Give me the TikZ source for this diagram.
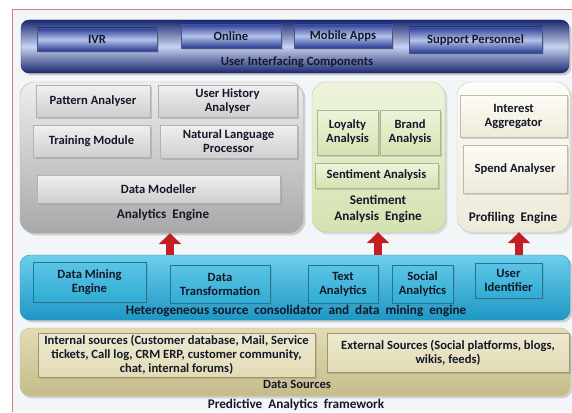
\documentclass[tikz,border=0pt]{standalone}
\usepackage{fontspec}
\setmainfont{Carlito}
\usepackage{tikz}
\usetikzlibrary{arrows.meta,shadows}
\usepackage{xcolor}
\definecolor{pfframe}{RGB}{222,120,132}
\definecolor{pfback}{RGB}{243,246,249}
\definecolor{pfnavy}{RGB}{26,40,110}
\definecolor{pflight}{RGB}{200,210,240}
\definecolor{pfbnavy}{RGB}{40,60,148}
\definecolor{pfblight}{RGB}{182,194,234}
\definecolor{pfgraylt}{RGB}{238,238,238}
\definecolor{pfgraydk}{RGB}{168,168,168}
\definecolor{pfgreenlt}{RGB}{238,244,220}
\definecolor{pfgreendk}{RGB}{212,226,176}
\definecolor{pfcreamlt}{RGB}{253,252,246}
\definecolor{pfcreamdk}{RGB}{238,234,218}
\definecolor{pfcyanlt}{RGB}{110,206,236}
\definecolor{pfcyandk}{RGB}{30,150,196}
\definecolor{pfcyanbox}{RGB}{48,172,212}
\definecolor{pfkhakilt}{RGB}{226,219,180}
\definecolor{pfkhakidk}{RGB}{198,188,138}
\definecolor{pfred}{RGB}{196,30,34}
\definecolor{pfink}{RGB}{20,24,40}
\tikzstyle{txt} = [font=\fontsize{12.6}{14}\selectfont\bfseries, text=pfink, align=center, inner sep=1pt]
\tikzstyle{lbl} = [txt, font=\fontsize{13.2}{16}\selectfont\bfseries]
\tikzstyle{uiband} = [draw=pfnavy, rounded corners=8pt, shading angle=90, top color=pfnavy, bottom color=pfnavy, middle color=pflight, drop shadow={opacity=0.35}]
\tikzstyle{uibox} = [txt, draw=pfnavy!80, shading angle=90, top color=pfbnavy, bottom color=pfbnavy, middle color=pfblight, drop shadow={opacity=0.35}]
\tikzstyle{enggray} = [draw=gray!60, rounded corners=14pt, top color=pfgraylt, bottom color=pfgraydk, drop shadow={opacity=0.35}]
\tikzstyle{boxgray} = [txt, draw=gray!60, top color=gray!12, bottom color=gray!38, drop shadow={opacity=0.35}]
\tikzstyle{enggreen} = [draw=pfgreendk!90!black, rounded corners=14pt, top color=pfgreenlt, bottom color=pfgreendk, drop shadow={opacity=0.25}]
\tikzstyle{boxgreen} = [txt, draw=pfgreendk!80!black, top color=pfgreenlt, bottom color=pfgreendk, drop shadow={opacity=0.3}]
\tikzstyle{engcream} = [draw=pfcreamdk!85!black, rounded corners=14pt, top color=pfcreamlt, bottom color=pfcreamdk, drop shadow={opacity=0.25}]
\tikzstyle{boxcream} = [txt, draw=pfcreamdk!80!black, top color=pfcreamlt, bottom color=pfcreamdk, drop shadow={opacity=0.3}]
\tikzstyle{cyanband} = [draw=pfcyandk, rounded corners=10pt, top color=pfcyanlt, bottom color=pfcyandk, drop shadow={opacity=0.35}]
\tikzstyle{boxcyan} = [txt, draw=pfcyandk!80!black, top color=pfcyanlt!70!pfcyanbox, bottom color=pfcyanbox, drop shadow={opacity=0.35}]
\tikzstyle{khakiband} = [draw=pfkhakidk, rounded corners=10pt, top color=pfkhakilt, bottom color=pfkhakidk, drop shadow={opacity=0.3}]
\tikzstyle{boxkhaki} = [txt, draw=pfkhakidk!80!black, top color=pfkhakilt!60!white, bottom color=pfkhakilt, drop shadow={opacity=0.3}]
\tikzstyle{uparrow} = [line width=8pt, draw=pfred, -{Triangle[width=22pt,length=11pt]}]

\begin{document}
\begin{tikzpicture}[x=1pt, y=-1pt]
\useasboundingbox (0,0) rectangle (572,412);
% frame
\fill[pfback] (12,9) rectangle (572,412);
\draw[pfframe] (12,412) -- (12,9) -- (572,9);

% user interfacing components
\node[uiband, minimum width=548, minimum height=53] (uic) at (295,46.5) {};
\node[uibox, minimum width=120, minimum height=23] (ivr) at (97,39.5) {IVR};
\node[uibox, minimum width=100, minimum height=24] (online) at (231,36) {Online};
\node[uibox, minimum width=98, minimum height=24] (mobile) at (343,36) {Mobile Apps};
\node[uibox, minimum width=133, minimum height=26] (support) at (475.5,40) {Support Personnel};
\node[txt] (uiclabel) at (297,62.5) {User Interfacing Components};

% analytics engine
\node[enggray, minimum width=283, minimum height=151] (analytics) at (161.5,157.5) {};
\node[boxgray, minimum width=114, minimum height=32] (pattern) at (93,101) {Pattern Analyser};
\node[boxgray, minimum width=139, minimum height=32] (history) at (227.5,101) {User History\\Analyser};
\node[boxgray, minimum width=117, minimum height=32] (training) at (91.5,141) {Training Module};
\node[boxgray, minimum width=137, minimum height=33] (nlp) at (228.5,141.5) {Natural Language\\Processor};
\node[boxgray, minimum width=243, minimum height=28] (modeller) at (158.5,189) {Data Modeller};
\node[lbl] (analyticslabel) at (163,215) {Analytics\ \ Engine};

% sentiment analysis engine
\node[enggreen, minimum width=133, minimum height=150] (sentiment) at (378.5,157) {};
\node[boxgreen, minimum width=61, minimum height=45] (loyalty) at (347.5,132.5) {Loyalty\\Analysis};
\node[boxgreen, minimum width=60, minimum height=45] (brand) at (410,132.5) {Brand\\Analysis};
\node[boxgreen, minimum width=123, minimum height=25] (sentan) at (376.5,175.5) {Sentiment Analysis};
\node[lbl] (sentimentlabel) at (378,208.5) {Sentiment\\Analysis\ \ Engine};

% profiling engine
\node[engcream, minimum width=113, minimum height=150] (profiling) at (513.5,157) {};
\node[boxcream, minimum width=107, minimum height=42] (interest) at (513.5,116) {Interest\\Aggregator};
\node[boxcream, minimum width=104, minimum height=48] (spend) at (515,169) {Spend Analyser};
\node[lbl] (profilinglabel) at (513,218) {Profiling\ \ Engine};

% heterogeneous source consolidator
\node[cyanband, minimum width=550, minimum height=65] (consolidator) at (295,287.5) {};
\node[boxcyan, minimum width=113, minimum height=40] (mining) at (89.5,282) {Data Mining\\Engine};
\node[boxcyan, minimum width=100, minimum height=38] (transform) at (220,284) {Data\\Transformation};
\node[boxcyan, minimum width=70, minimum height=38] (text) at (343,284) {Text\\Analytics};
\node[boxcyan, minimum width=61, minimum height=38] (social) at (422.5,284) {Social\\Analytics};
\node[boxcyan, minimum width=67, minimum height=35] (identifier) at (508.5,280.5) {User\\Identifier};
\node[lbl] (consolidatorlabel) at (296,311) {Heterogeneous\ source\ \ consolidator\ \ and\ \ data\ \ mining\ \ engine};

% arrows up
\coordinate (up1) at (170,255);
\coordinate (up2) at (378,255);
\coordinate (up3) at (519,255);
\draw[uparrow] (up1) -- (up1 |- analytics.south);
\draw[uparrow] (up2) -- (up2 |- sentiment.south);
\draw[uparrow] (up3) -- (up3 |- profiling.south);

% data sources
\node[khakiband, minimum width=550, minimum height=68] (sources) at (295,362) {};
\node[boxkhaki, minimum width=277, minimum height=44] (internal) at (176.5,355) {Internal sources (Customer database, Mail, Service\\tickets, Call log, CRM ERP, customer community,\\chat, internal forums)};
\node[boxkhaki, minimum width=242, minimum height=39] (external) at (448,352.5) {External Sources (Social platforms, blogs,\\wikis, feeds)};
\node[txt] (sourceslabel) at (297,384) {Data Sources};
\node[lbl] (title) at (296,405) {Predictive\ \ Analytics\ \ framework};
\end{tikzpicture}
\end{document}
